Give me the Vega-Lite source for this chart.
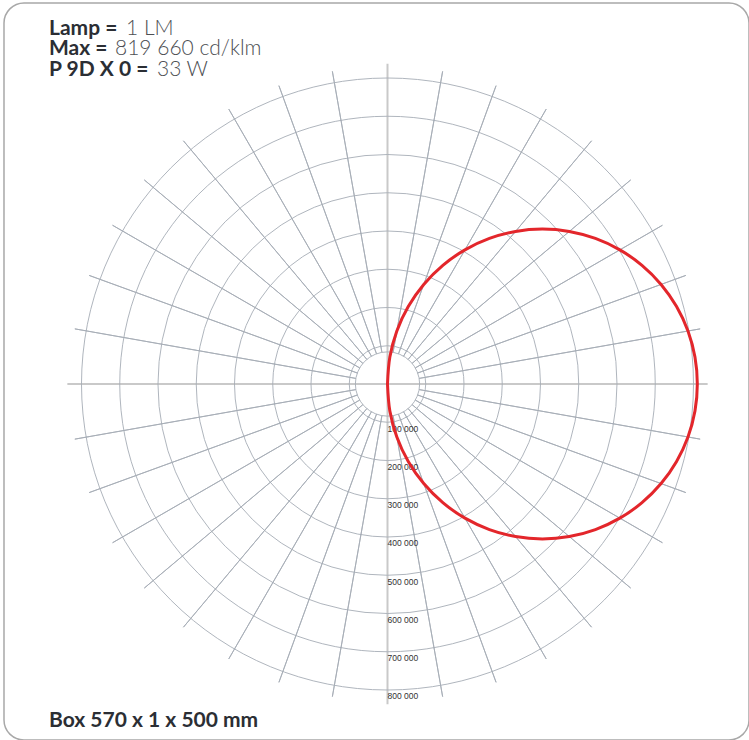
{
  "$schema": "https://vega.github.io/schema/vega-lite/v6.json",
  "width": 745,
  "height": 737,
  "autosize": "none",
  "padding": {"left": 4, "top": 3, "right": 0, "bottom": 0},
  "background": "white",
  "config": {"view": {"stroke": "#a8a8a8", "strokeWidth": 1.5, "cornerRadius": 20}},
  "datasets": {
    "axes": [
      {"x": -837000, "y": 0, "x2": 837000, "y2": 0},
      {"x": 0, "y": -837000, "x2": 0, "y2": 837000}
    ],
    "rings": [
      {"r": 84000}, {"r": 100000}, {"r": 200000}, {"r": 300000}, {"r": 400000},
      {"r": 500000}, {"r": 600000}, {"r": 700000}, {"r": 800000}
    ],
    "spokes": [
      {"angle": 10}, {"angle": 20}, {"angle": 30}, {"angle": 40}, {"angle": 50}, {"angle": 60}, {"angle": 70}, {"angle": 80},
      {"angle": 100}, {"angle": 110}, {"angle": 120}, {"angle": 130}, {"angle": 140}, {"angle": 150}, {"angle": 160}, {"angle": 170},
      {"angle": 190}, {"angle": 200}, {"angle": 210}, {"angle": 220}, {"angle": 230}, {"angle": 240}, {"angle": 250}, {"angle": 260},
      {"angle": 280}, {"angle": 290}, {"angle": 300}, {"angle": 310}, {"angle": 320}, {"angle": 330}, {"angle": 340}, {"angle": 350}
    ],
    "labels": [
      {"value": 100000, "label": "100 000"},
      {"value": 200000, "label": "200 000"},
      {"value": 300000, "label": "300 000"},
      {"value": 400000, "label": "400 000"},
      {"value": 500000, "label": "500 000"},
      {"value": 600000, "label": "600 000"},
      {"value": 700000, "label": "700 000"},
      {"value": 800000, "label": "800 000"}
    ],
    "curve": [
      {"g": -90, "x": 0, "y": 0},
      {"g": -85, "x": 6153, "y": -70327},
      {"g": -80, "x": 24424, "y": -138518},
      {"g": -75, "x": 54260, "y": -202500},
      {"g": -70, "x": 94752, "y": -260329},
      {"g": -65, "x": 144671, "y": -310248},
      {"g": -60, "x": 202500, "y": -350740},
      {"g": -55, "x": 266482, "y": -380576},
      {"g": -50, "x": 334673, "y": -398847},
      {"g": -45, "x": 405000, "y": -405000},
      {"g": -40, "x": 475327, "y": -398847},
      {"g": -35, "x": 543518, "y": -380576},
      {"g": -30, "x": 607500, "y": -350740},
      {"g": -25, "x": 665329, "y": -310248},
      {"g": -20, "x": 715248, "y": -260329},
      {"g": -15, "x": 755740, "y": -202500},
      {"g": -10, "x": 785576, "y": -138518},
      {"g": -5, "x": 803847, "y": -70327},
      {"g": 0, "x": 810000, "y": 0},
      {"g": 5, "x": 803847, "y": 70327},
      {"g": 10, "x": 785576, "y": 138518},
      {"g": 15, "x": 755740, "y": 202500},
      {"g": 20, "x": 715248, "y": 260329},
      {"g": 25, "x": 665329, "y": 310248},
      {"g": 30, "x": 607500, "y": 350740},
      {"g": 35, "x": 543518, "y": 380576},
      {"g": 40, "x": 475327, "y": 398847},
      {"g": 45, "x": 405000, "y": 405000},
      {"g": 50, "x": 334673, "y": 398847},
      {"g": 55, "x": 266482, "y": 380576},
      {"g": 60, "x": 202500, "y": 350740},
      {"g": 65, "x": 144671, "y": 310248},
      {"g": 70, "x": 94752, "y": 260329},
      {"g": 75, "x": 54260, "y": 202500},
      {"g": 80, "x": 24424, "y": 138518},
      {"g": 85, "x": 6153, "y": 70327},
      {"g": 90, "x": 0, "y": 0}
    ]
  },
  "layer": [
    {
      "data": {"name": "axes"},
      "mark": {"type": "rule", "color": "#c9c9c9", "strokeWidth": 2},
      "encoding": {
        "x": {"field": "x", "type": "quantitative", "axis": null,
              "scale": {"domain": [-1002622, 945106], "nice": false, "zero": false}},
        "y": {"field": "y", "type": "quantitative", "axis": null,
              "scale": {"domain": [-996086, 930726], "nice": false, "zero": false, "reverse": true}},
        "x2": {"field": "x2"},
        "y2": {"field": "y2"}
      }
    },
    {
      "data": {"name": "rings"},
      "mark": {"type": "arc", "filled": false, "stroke": "#a6adb5", "strokeWidth": 0.9, "theta": 0, "theta2": 6.2832},
      "encoding": {
        "x": {"datum": 0, "type": "quantitative", "axis": null},
        "y": {"datum": 0, "type": "quantitative", "axis": null},
        "radius": {"field": "r", "type": "quantitative", "stack": null,
                   "scale": {"type": "linear", "domain": [0, 800000], "range": [0, 306], "zero": true, "nice": false}}
      }
    },
    {
      "data": {"name": "spokes"},
      "mark": {"type": "arc", "filled": false, "stroke": "#a6adb5", "strokeWidth": 0.9},
      "encoding": {
        "x": {"datum": 0, "type": "quantitative", "axis": null},
        "y": {"datum": 0, "type": "quantitative", "axis": null},
        "theta": {"field": "angle", "type": "quantitative", "stack": null,
                  "scale": {"type": "linear", "domain": [0, 360], "range": [0, 6.283185307], "zero": true, "nice": false}},
        "theta2": {"field": "angle"},
        "radius": {"datum": 830000, "type": "quantitative",
                   "scale": {"type": "linear", "domain": [0, 800000], "range": [0, 306], "zero": true, "nice": false}},
        "radius2": {"datum": 84000}
      }
    },
    {
      "data": {"name": "labels"},
      "mark": {"type": "text", "align": "left", "baseline": "middle", "dx": 0, "dy": 6.5,
               "font": "Liberation Sans", "fontSize": 8.5, "color": "#333333"},
      "encoding": {
        "x": {"datum": 0, "type": "quantitative", "axis": null},
        "y": {"field": "value", "type": "quantitative", "axis": null},
        "text": {"field": "label"}
      }
    },
    {
      "data": {"name": "curve"},
      "mark": {"type": "line", "color": "#e3262b", "strokeWidth": 3, "interpolate": "cardinal"},
      "encoding": {
        "x": {"field": "x", "type": "quantitative", "axis": null},
        "y": {"field": "y", "type": "quantitative", "axis": null},
        "order": {"field": "g", "type": "quantitative"}
      }
    },
    {
      "data": {"values": [{}]},
      "mark": {"type": "text", "align": "left", "baseline": "alphabetic", "font": "Lato", "fontWeight": "bold", "fontSize": 21, "color": "#2b2e34", "text": "Lamp ="},
      "encoding": {"x": {"datum": -884972, "type": "quantitative", "axis": null}, "y": {"datum": -912426, "type": "quantitative", "axis": null}}
    },
    {
      "data": {"values": [{}]},
      "mark": {"type": "text", "align": "left", "baseline": "alphabetic", "font": "Lato", "fontWeight": "bold", "fontSize": 21, "color": "#2b2e34", "text": "Max ="},
      "encoding": {"x": {"datum": -884972, "type": "quantitative", "axis": null}, "y": {"datum": -860138, "type": "quantitative", "axis": null}}
    },
    {
      "data": {"values": [{}]},
      "mark": {"type": "text", "align": "left", "baseline": "alphabetic", "font": "Lato", "fontWeight": "bold", "fontSize": 21, "color": "#2b2e34", "text": "P 9D X 0 ="},
      "encoding": {"x": {"datum": -884972, "type": "quantitative", "axis": null}, "y": {"datum": -803928, "type": "quantitative", "axis": null}}
    },
    {
      "data": {"values": [{}]},
      "mark": {"type": "text", "align": "left", "baseline": "alphabetic", "font": "Lato", "fontWeight": 300, "fontSize": 21, "color": "#4d4f53", "text": "1 LM"},
      "encoding": {"x": {"datum": -683666, "type": "quantitative", "axis": null}, "y": {"datum": -912426, "type": "quantitative", "axis": null}}
    },
    {
      "data": {"values": [{}]},
      "mark": {"type": "text", "align": "left", "baseline": "alphabetic", "font": "Lato", "fontWeight": 300, "fontSize": 21, "color": "#4d4f53", "text": "819 660 cd/klm"},
      "encoding": {"x": {"datum": -712424, "type": "quantitative", "axis": null}, "y": {"datum": -860138, "type": "quantitative", "axis": null}}
    },
    {
      "data": {"values": [{}]},
      "mark": {"type": "text", "align": "left", "baseline": "alphabetic", "font": "Lato", "fontWeight": 300, "fontSize": 21, "color": "#4d4f53", "text": "33 W"},
      "encoding": {"x": {"datum": -602619, "type": "quantitative", "axis": null}, "y": {"datum": -803928, "type": "quantitative", "axis": null}}
    },
    {
      "data": {"values": [{}]},
      "mark": {"type": "text", "align": "left", "baseline": "alphabetic", "font": "Lato", "fontWeight": "bold", "fontSize": 21, "color": "#2b2e34", "text": "Box 570 x 1 x 500 mm"},
      "encoding": {"x": {"datum": -884972, "type": "quantitative", "axis": null}, "y": {"datum": 896739, "type": "quantitative", "axis": null}}
    }
  ]
}
